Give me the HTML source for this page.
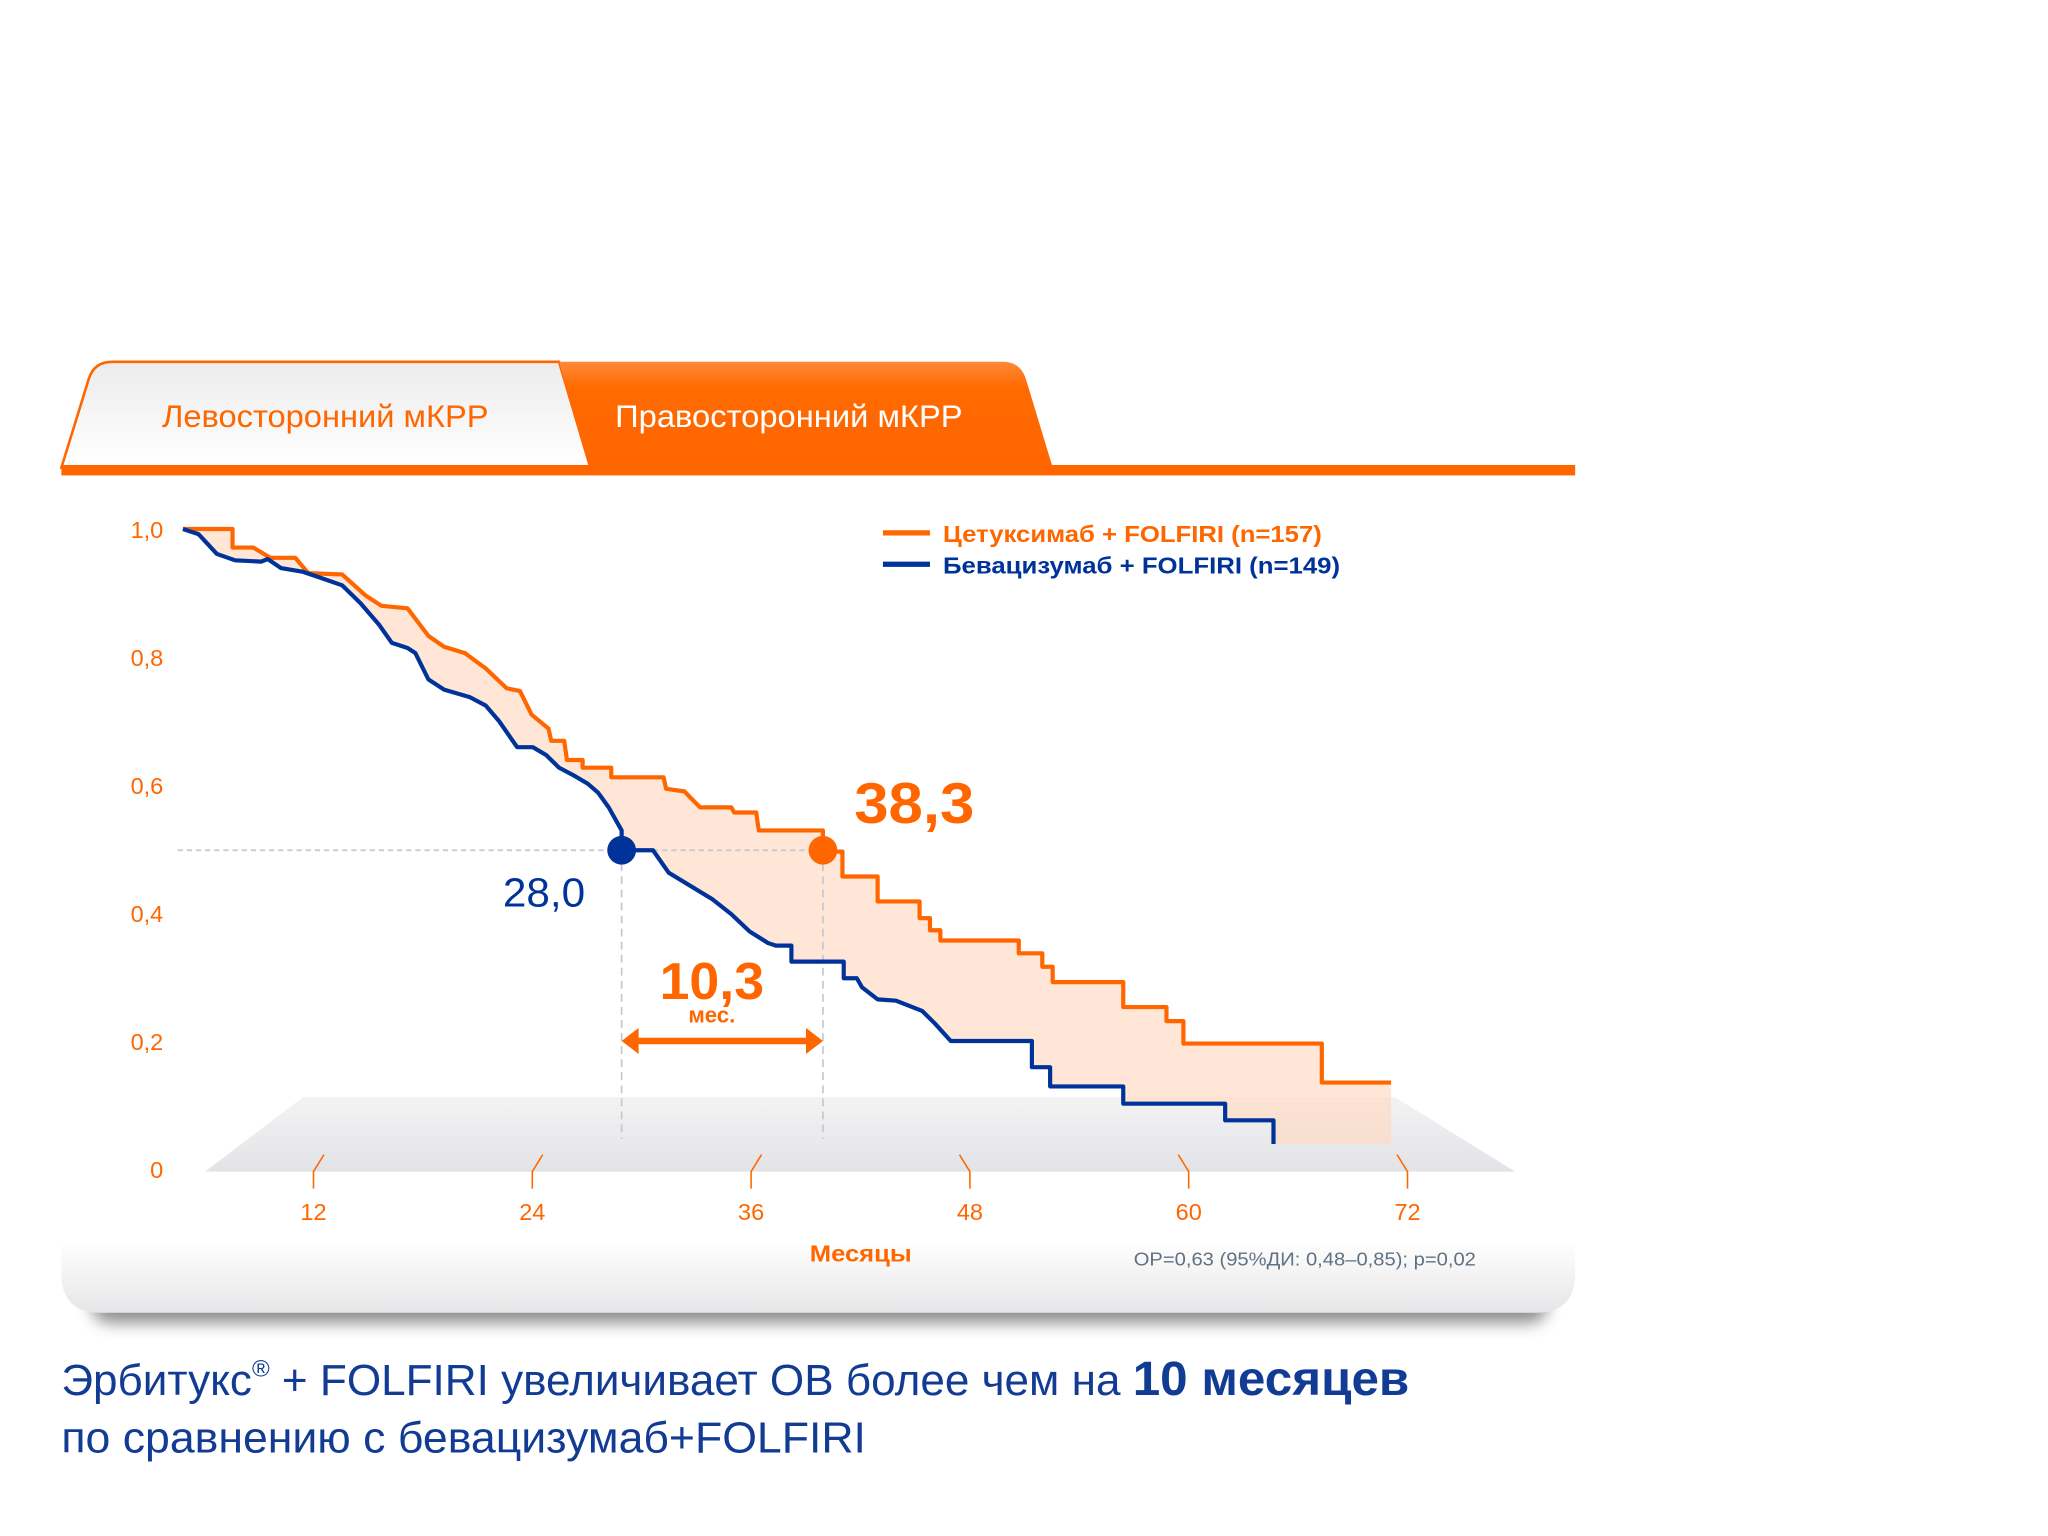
<!DOCTYPE html>
<html><head><meta charset="utf-8"><style>
html,body{margin:0;padding:0;background:#fff;}
svg{display:block;font-family:"Liberation Sans","DejaVu Sans",sans-serif;}
</style></head><body>
<svg id="chart" width="2048" height="1536" viewBox="0 0 1568 1176" xmlns="http://www.w3.org/2000/svg">
<defs>
<linearGradient id="tabL" x1="0" y1="0" x2="0" y2="1"><stop offset="0" stop-color="#ececee"/><stop offset="1" stop-color="#ffffff"/></linearGradient>
<linearGradient id="tabR" x1="0" y1="0" x2="0" y2="1"><stop offset="0" stop-color="#ff8a3a"/><stop offset="0.25" stop-color="#ff6a00"/><stop offset="1" stop-color="#ff6600"/></linearGradient>
<linearGradient id="floor" x1="0" y1="0" x2="0" y2="1"><stop offset="0" stop-color="#f3f3f4"/><stop offset="1" stop-color="#e2e3e6"/></linearGradient>
<linearGradient id="cardBot" x1="0" y1="0" x2="0" y2="1"><stop offset="0" stop-color="#ffffff"/><stop offset="1" stop-color="#e6e6e8"/></linearGradient>
<filter id="sh" x="-5%" y="-50%" width="110%" height="200%"><feGaussianBlur stdDeviation="6"/></filter>
</defs>
<!-- shadow -->
<rect x="70" y="985" width="1115" height="28" rx="14" fill="#444" opacity="0.6" filter="url(#sh)"/>
<!-- card -->
<path d="M47 360 H1206 V975 Q1206 1005 1176 1005 H77 Q47 1005 47 975 Z" fill="#fff"/>
<path d="M47 950 H1206 V975 Q1206 1005 1176 1005 H77 Q47 1005 47 975 Z" fill="url(#cardBot)"/>
<!-- tabs -->
<path d="M47 358 L68 290 Q72 277 86 277 H428 L452 358 Z" fill="url(#tabL)" stroke="#ff6600" stroke-width="2"/>
<path d="M428 277 H768 Q782 277 786 292 L806 358 H452 Z" fill="url(#tabR)"/>
<text x="249" y="327" text-anchor="middle" font-size="24" fill="#ff6600" textLength="250" lengthAdjust="spacingAndGlyphs">Левосторонний мКРР</text>
<text x="604" y="327" text-anchor="middle" font-size="24" fill="#fff" textLength="266" lengthAdjust="spacingAndGlyphs">Правосторонний мКРР</text>
<rect x="47" y="356" width="1159" height="8" fill="#ff6600"/>
<!-- floor -->
<path d="M232 840 H1068 L1160 897 H157 Z" fill="url(#floor)"/>
<g id="plot"></g>
<!-- legend -->
<line x1="676" y1="408" x2="712" y2="408" stroke="#ff6600" stroke-width="4"/>
<text x="722" y="415" font-size="18" font-weight="bold" fill="#ff6600" textLength="290" lengthAdjust="spacingAndGlyphs">Цетуксимаб + FOLFIRI (n=157)</text>
<line x1="676" y1="432" x2="712" y2="432" stroke="#003399" stroke-width="4"/>
<text x="722" y="439" font-size="18" font-weight="bold" fill="#003399" textLength="304" lengthAdjust="spacingAndGlyphs">Бевацизумаб + FOLFIRI (n=149)</text>
<text x="659" y="966" text-anchor="middle" font-size="18" font-weight="bold" fill="#ff6600" textLength="78" lengthAdjust="spacingAndGlyphs">Месяцы</text>
<text x="868" y="969" font-size="14" fill="#5f7283" textLength="262" lengthAdjust="spacingAndGlyphs">ОР=0,63 (95%ДИ: 0,48–0,85); p=0,02</text>
<text x="654" y="630" font-size="44" font-weight="bold" fill="#ff6600" textLength="92" lengthAdjust="spacingAndGlyphs">38,3</text>
<text x="385" y="694" font-size="31" fill="#003399" textLength="63" lengthAdjust="spacingAndGlyphs">28,0</text>
<text x="545" y="765" text-anchor="middle" font-size="40" font-weight="bold" fill="#ff6600" textLength="80" lengthAdjust="spacingAndGlyphs">10,3</text>
<text x="545" y="783" text-anchor="middle" font-size="17" font-weight="bold" fill="#ff6600">мес.</text>
<!-- footer -->
<text x="47" y="1068" font-size="33" fill="#123c94" textLength="1032" lengthAdjust="spacingAndGlyphs">Эрбитукс<tspan font-size="18" dy="-14">®</tspan><tspan dy="14"> + FOLFIRI увеличивает ОВ более чем на </tspan><tspan font-weight="bold" font-size="37">10 месяцев</tspan></text>
<text x="47" y="1112" font-size="33" fill="#123c94" textLength="616" lengthAdjust="spacingAndGlyphs">по сравнению с бевацизумаб+FOLFIRI</text>
</svg>
<script>
const yTicks = [0, 0.2, 0.4, 0.6, 0.8, 1.0];
const yTickLabels = ["0", "0,2", "0,4", "0,6", "0,8", "1,0"];
const xTicks = [12, 24, 36, 48, 60, 72];
const xTickLabels = ["12", "24", "36", "48", "60", "72"];
const cetuxTimes = [4.84,7.56,7.56,8.70,9.63,11.0,11.71,13.57,14.86,15.72,17.16,18.30,19.16,20.31,21.45,22.60,23.32,23.96,24.89,25.04,25.75,25.90,26.76,26.76,28.33,28.33,31.20,31.34,32.34,33.20,34.92,35.07,36.28,36.42,39.94,39.94,41.01,41.01,42.94,42.94,45.24,45.24,45.81,45.81,46.38,46.38,50.68,50.68,51.97,51.97,52.54,52.54,56.41,56.41,58.78,58.78,59.71,59.71,67.30,67.30,71.10];
const cetuxSurv = [1.0,1.0,0.971,0.971,0.955,0.955,0.931,0.929,0.896,0.880,0.876,0.833,0.816,0.806,0.782,0.751,0.747,0.710,0.688,0.669,0.669,0.639,0.639,0.627,0.627,0.612,0.612,0.594,0.590,0.565,0.565,0.557,0.557,0.529,0.529,0.496,0.496,0.457,0.457,0.418,0.418,0.392,0.392,0.373,0.373,0.357,0.357,0.337,0.337,0.316,0.316,0.292,0.292,0.253,0.253,0.231,0.231,0.196,0.196,0.135,0.135];
const bevTimes = [4.84,5.69,6.70,7.70,9.13,9.49,10.21,11.43,12.36,13.57,14.58,15.58,16.30,17.16,17.59,18.30,19.16,20.59,21.45,22.17,23.17,24.03,24.75,25.47,26.33,27.04,27.61,28.19,28.90,28.90,30.62,31.48,32.63,33.85,34.92,35.92,36.93,37.36,38.21,38.21,41.08,41.08,41.80,42.08,42.94,43.95,45.38,46.09,46.95,51.40,51.40,52.40,52.40,56.41,56.41,62.00,62.00,64.65,64.65];
const bevSurv = [1.0,0.992,0.961,0.951,0.949,0.953,0.939,0.933,0.924,0.912,0.884,0.851,0.822,0.814,0.806,0.765,0.749,0.737,0.724,0.700,0.659,0.659,0.647,0.627,0.614,0.602,0.588,0.565,0.529,0.498,0.498,0.463,0.443,0.422,0.398,0.371,0.353,0.349,0.349,0.324,0.324,0.298,0.298,0.284,0.265,0.263,0.247,0.227,0.200,0.200,0.159,0.159,0.129,0.129,0.102,0.102,0.076,0.076,0.039];
const medianBev = 28.90;
const medianCetux = 39.94;
const medianSurv = 0.498;

const NS = "http://www.w3.org/2000/svg";
const X = m => 72.5 + 13.96 * m;
const Y = s => 895 - 490 * s;
const g = document.getElementById('plot');
function mk(tag, attrs, parent){ const e=document.createElementNS(NS,tag); for(const k in attrs) e.setAttribute(k,attrs[k]); (parent||g).appendChild(e); return e; }

let pts = cetuxTimes.map((t,i)=>X(t)+','+Y(cetuxSurv[i]));
pts.push(X(cetuxTimes[cetuxTimes.length-1])+','+Y(bevSurv[bevSurv.length-1]));
for(let i=bevTimes.length-1;i>=0;i--) pts.push(X(bevTimes[i])+','+Y(bevSurv[i]));
const fill = mk('polygon',{points:pts.join(' '),fill:'#ffd9c0',opacity:'0.65'});



yTicks.forEach((v,i)=>{
  const t = mk('text',{x:125,y:Y(v)+7,'text-anchor':'end','font-size':18,fill:'#ff6600'});
  t.textContent = yTickLabels[i];
  
  
});
xTicks.forEach((v,i)=>{
  const x = X(v);
  const lean = v<=36 ? 1 : -1;
  const tk = mk('path',{d:`M${x} 910 V897 L${x+lean*8} 884`,fill:'none',stroke:'#ff6600','stroke-width':1.2});
  
  
  const t = mk('text',{x:x,y:934,'text-anchor':'middle','font-size':18,fill:'#ff6600'});
  t.textContent = xTickLabels[i];
  
  
});
const dh = mk('line',{x1:136,y1:Y(medianSurv),x2:X(medianCetux),y2:Y(medianSurv),stroke:'#c4c9ce','stroke-width':1.3,'stroke-dasharray':'4 3'});


[medianBev, medianCetux].forEach(m=>{
  const l = mk('line',{x1:X(m),y1:Y(medianSurv),x2:X(m),y2:872,stroke:'#c4c9ce','stroke-width':1.3,'stroke-dasharray':'6 4'});
  
  
});
const cl = mk('polyline',{points:cetuxTimes.map((t,i)=>X(t)+','+Y(cetuxSurv[i])).join(' '),fill:'none',stroke:'#ff6600','stroke-width':3.2,'stroke-linejoin':'round'});


const bl = mk('polyline',{points:bevTimes.map((t,i)=>X(t)+','+Y(bevSurv[i])).join(' '),fill:'none',stroke:'#003399','stroke-width':3.2,'stroke-linejoin':'round'});


const db = mk('circle',{cx:X(medianBev),cy:Y(medianSurv),r:11,fill:'#003399'});


const dc = mk('circle',{cx:X(medianCetux),cy:Y(medianSurv),r:11,fill:'#ff6600'});


const x1 = X(medianBev), x2 = X(medianCetux), ay = 797;
const ar = mk('path',{d:`M${x1+10} ${ay} H${x2-10}`,stroke:'#ff6600','stroke-width':5,fill:'none'});


const h1 = mk('path',{d:`M${x1} ${ay} L${x1+13} ${ay-10} L${x1+13} ${ay+10} Z M${x2} ${ay} L${x2-13} ${ay-10} L${x2-13} ${ay+10} Z`,fill:'#ff6600'});


</script>
</body></html>
